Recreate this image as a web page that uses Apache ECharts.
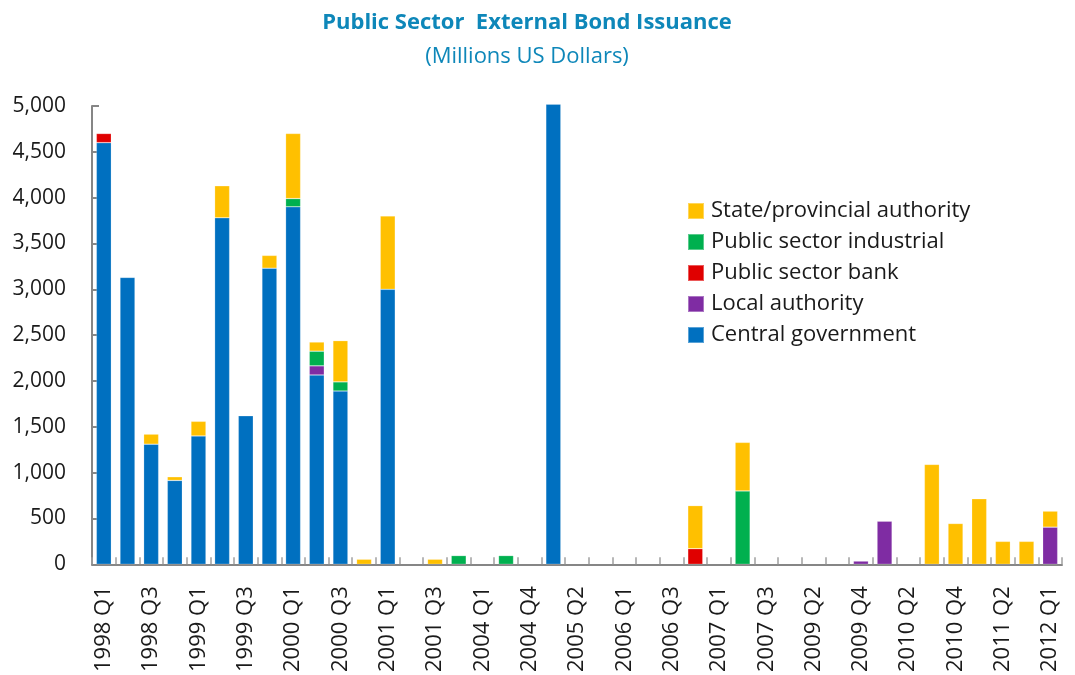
<!DOCTYPE html>
<html>
<head>
<meta charset="utf-8">
<title>Public Sector External Bond Issuance</title>
<script src="https://cdn.jsdelivr.net/npm/echarts@6/dist/echarts.min.js"></script>
<style>
  html, body { margin: 0; padding: 0; background: #ffffff; }
  #chart { width: 1075px; height: 675px; }
</style>
</head>
<body>
<div id="chart"></div>
<script>
// Quarters with issuance records (every other one is labelled on the axis)
const quarters = [
  '1998 Q1', '1998 Q2', '1998 Q3', '1998 Q4', '1999 Q1', '1999 Q2', '1999 Q3', '1999 Q4',
  '2000 Q1', '2000 Q2', '2000 Q3', '2000 Q4', '2001 Q1', '2001 Q2', '2001 Q3', '2001 Q4',
  '2004 Q1', '2004 Q2', '2004 Q4', '2005 Q1', '2005 Q2', '2005 Q3', '2006 Q1', '2006 Q2',
  '2006 Q3', '2006 Q4', '2007 Q1', '2007 Q2', '2007 Q3', '2007 Q4', '2009 Q2', '2009 Q3',
  '2009 Q4', '2010 Q1', '2010 Q2', '2010 Q3', '2010 Q4', '2011 Q1', '2011 Q2', '2011 Q3',
  '2012 Q1'
];

// Millions of US dollars, one value per quarter
const centralGovernment = [
  4600, 3130, 1310, 915, 1400, 3780, 1620, 3230,
  3900, 2065, 1890, 0, 3000, 0, 0, 0,
  0, 0, 0, 5020, 0, 0, 0, 0,
  0, 0, 0, 0, 0, 0, 0, 0,
  0, 0, 0, 0, 0, 0, 0, 0,
  0
];
const localAuthority = [
  0, 0, 0, 0, 0, 0, 0, 0,
  0, 100, 0, 0, 0, 0, 0, 0,
  0, 0, 0, 0, 0, 0, 0, 0,
  0, 0, 0, 0, 0, 0, 0, 0,
  35, 470, 0, 0, 0, 0, 0, 0,
  405
];
const publicSectorBank = [
  100, 0, 0, 0, 0, 0, 0, 0,
  0, 0, 0, 0, 0, 0, 0, 0,
  0, 0, 0, 0, 0, 0, 0, 0,
  0, 170, 0, 0, 0, 0, 0, 0,
  0, 0, 0, 0, 0, 0, 0, 0,
  0
];
const publicSectorIndustrial = [
  0, 0, 0, 0, 0, 0, 0, 0,
  90, 160, 100, 0, 0, 0, 0, 95,
  0, 95, 0, 0, 0, 0, 0, 0,
  0, 0, 0, 800, 0, 0, 0, 0,
  0, 0, 0, 0, 0, 0, 0, 0,
  0
];
const stateProvincial = [
  0, 0, 110, 40, 160, 350, 0, 140,
  710, 100, 450, 55, 800, 0, 55, 0,
  0, 0, 0, 0, 0, 0, 0, 0,
  0, 470, 0, 530, 0, 0, 0, 0,
  0, 0, 0, 1090, 445, 715, 250, 250,
  175
];

const yTicks = { min: 0, max: 5000, step: 500 };

const FONT = '"Open Sans", "Noto Sans", sans-serif';
const TEXT = '#1a1a1a';
const AXIS = '#868686';
const TITLE = '#0e87b9';

function series(name, values, color) {
  return {
    name: name,
    type: 'bar',
    stack: 'total',
    clip: false,
    barWidth: 15,
    data: values.map(v => (v === 0 ? null : v)),
    itemStyle: { color: color, borderColor: 'rgba(255,255,255,0.35)', borderWidth: 0.6 },
    emphasis: { disabled: true }
  };
}

const chart = echarts.init(document.getElementById('chart'), null, { renderer: 'canvas' });

chart.setOption({
  animation: false,
  backgroundColor: '#ffffff',
  textStyle: { fontFamily: FONT },
  title: {
    text: 'Public Sector  External Bond Issuance',
    subtext: '(Millions US Dollars)',
    left: 522,
    textAlign: 'center',
    top: 7,
    itemGap: 12,
    textStyle: { fontFamily: FONT, fontSize: 22, fontWeight: 'bold', color: TITLE },
    subtextStyle: { fontFamily: FONT, fontSize: 22, color: TITLE }
  },
  legend: {
    orient: 'vertical',
    left: 682,
    top: 195,
    itemWidth: 16,
    itemHeight: 16,
    itemGap: 9,
    icon: 'rect',
    selectedMode: false,
    data: ['State/provincial authority', 'Public sector industrial', 'Public sector bank',
           'Local authority', 'Central government'],
    textStyle: { fontFamily: FONT, fontSize: 22, lineHeight: 22, color: TEXT, padding: [0, 0, 0, 2] }
  },
  grid: { left: 92, right: 13, top: 106, bottom: 108, containLabel: false },
  xAxis: {
    type: 'category',
    data: quarters,
    boundaryGap: true,
    axisLine: { lineStyle: { color: AXIS, width: 2 } },
    axisTick: { show: true, inside: true, length: 7, interval: 0, lineStyle: { color: '#a0a0a0', width: 1.5 } },
    axisLabel: { interval: 1, rotate: 90, margin: 22, fontFamily: FONT, fontSize: 22, color: TEXT },
    splitLine: { show: false }
  },
  yAxis: {
    type: 'value',
    min: yTicks.min,
    max: yTicks.max,
    interval: yTicks.step,
    axisLine: { show: true, lineStyle: { color: AXIS, width: 2 } },
    axisTick: { show: true, inside: true, length: 7, lineStyle: { color: AXIS, width: 2 } },
    axisLabel: {
      margin: 26,
      fontFamily: FONT,
      fontSize: 21,
      color: TEXT,
      formatter: v => v.toLocaleString('en-US')
    },
    splitLine: { show: false }
  },
  series: [
    series('Central government', centralGovernment, '#0070c0'),
    series('Local authority', localAuthority, '#7f2ca3'),
    series('Public sector bank', publicSectorBank, '#e00000'),
    series('Public sector industrial', publicSectorIndustrial, '#00b04f'),
    series('State/provincial authority', stateProvincial, '#ffc000')
  ]
});
</script>
</body>
</html>
